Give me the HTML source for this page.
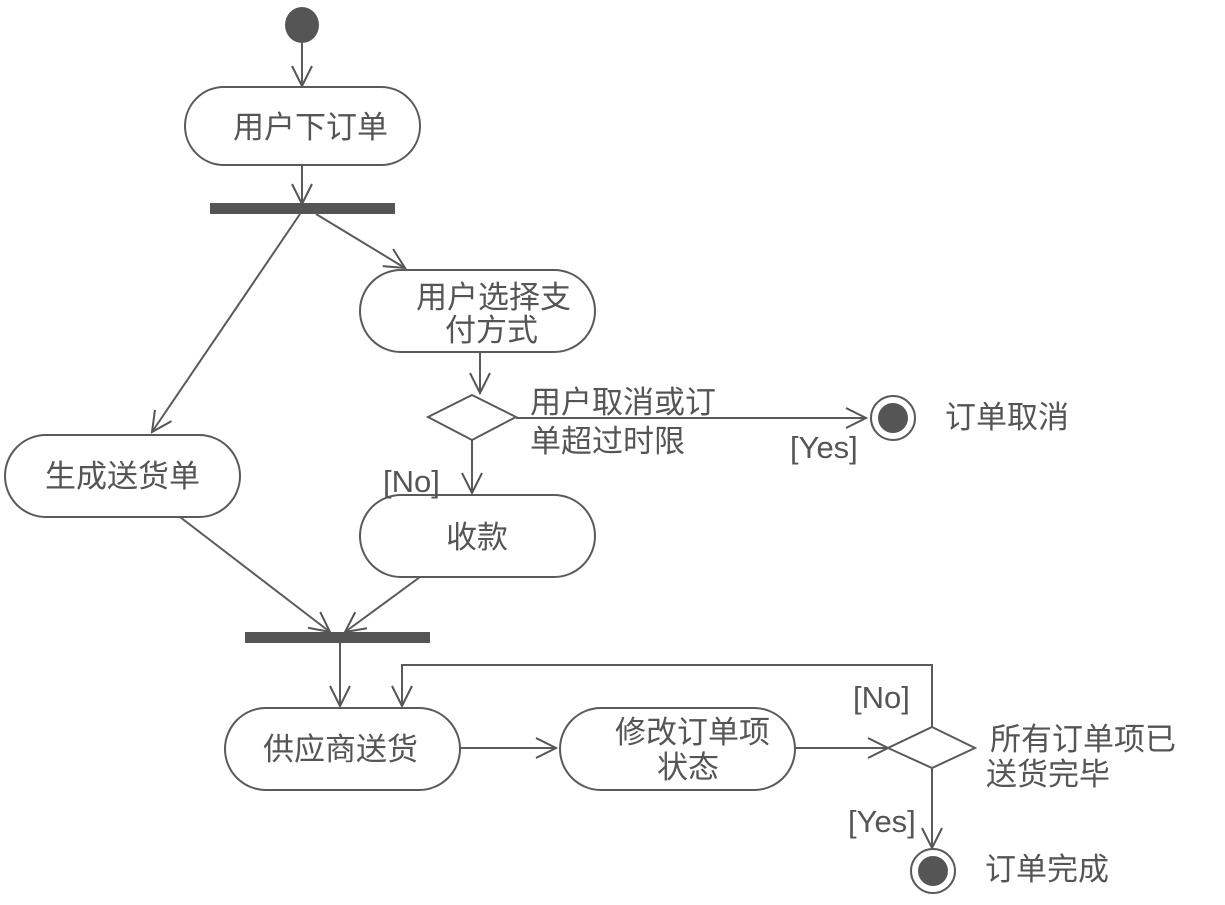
<!DOCTYPE html>
<html><head><meta charset="utf-8"><style>
html,body{margin:0;padding:0;background:#fff;}
svg{display:block;}
text{font-family:"Liberation Sans","Noto Sans CJK SC",sans-serif;fill:#555;font-size:31px;}
</style></head><body>
<svg width="1225" height="905" viewBox="0 0 1225 905" xmlns="http://www.w3.org/2000/svg">
<defs>
<marker id="a" markerWidth="24" markerHeight="24" refX="22" refY="12" orient="auto" markerUnits="userSpaceOnUse">
<path d="M2,2 L22,12 L2,22" fill="none" stroke="#555" stroke-width="2"/>
</marker>
</defs>
<g stroke="#5a5a5a" stroke-width="2" fill="none">
<ellipse cx="302" cy="25" rx="17" ry="18" fill="#555" stroke="none"/>
<line x1="302" y1="43" x2="302" y2="86" marker-end="url(#a)"/>
<rect x="185" y="87" width="235" height="78" rx="39" fill="#fff"/>
<line x1="302" y1="165" x2="302" y2="204" marker-end="url(#a)"/>
<rect x="210" y="203" width="185" height="11" fill="#555" stroke="none"/>
<line x1="300" y1="214" x2="152" y2="432" marker-end="url(#a)"/>
<line x1="316" y1="214" x2="405" y2="268" marker-end="url(#a)"/>
<rect x="360" y="270" width="235" height="82" rx="41" fill="#fff"/>
<line x1="480" y1="352" x2="480" y2="393" marker-end="url(#a)"/>
<polygon points="472,395 516,417 472,440 428,417" fill="#fff"/>
<line x1="516" y1="418" x2="866" y2="418" marker-end="url(#a)"/>
<circle cx="893" cy="418" r="22" fill="#fff"/>
<circle cx="893" cy="418" r="15" fill="#555" stroke="none"/>
<line x1="472" y1="440" x2="472" y2="493" marker-end="url(#a)"/>
<rect x="360" y="495" width="235" height="82" rx="41" fill="#fff"/>
<rect x="5" y="435" width="235" height="82" rx="41" fill="#fff"/>
<line x1="180" y1="517" x2="330" y2="632" marker-end="url(#a)"/>
<line x1="420" y1="577" x2="345" y2="632" marker-end="url(#a)"/>
<rect x="245" y="632" width="185" height="11" fill="#555" stroke="none"/>
<line x1="340" y1="643" x2="340" y2="706" marker-end="url(#a)"/>
<polyline points="932,727 932,665 402,665 402,706" marker-end="url(#a)"/>
<rect x="225" y="708" width="235" height="82" rx="41" fill="#fff"/>
<line x1="460" y1="748" x2="556" y2="748" marker-end="url(#a)"/>
<rect x="560" y="708" width="235" height="82" rx="41" fill="#fff"/>
<line x1="795" y1="748" x2="888" y2="748" marker-end="url(#a)"/>
<polygon points="932,727 975,748 932,768 888,748" fill="#fff"/>
<line x1="932" y1="768" x2="932" y2="848" marker-end="url(#a)"/>
<circle cx="933" cy="871" r="22" fill="#fff"/>
<circle cx="933" cy="871" r="15" fill="#555" stroke="none"/>
</g>
<text x="233" y="138">用户下订单</text>
<text x="416" y="308">用户选择支</text>
<text x="445" y="341">付方式</text>
<text x="530" y="413">用户取消或订</text>
<text x="530" y="452">单超过时限</text>
<text x="790" y="458">[Yes]</text>
<text x="945" y="428">订单取消</text>
<text x="383" y="492">[No]</text>
<text x="446" y="548">收款</text>
<text x="45" y="487">生成送货单</text>
<text x="263" y="760">供应商送货</text>
<text x="615" y="743">修改订单项</text>
<text x="657" y="778">状态</text>
<text x="853" y="708">[No]</text>
<text x="990" y="750">所有订单项已</text>
<text x="986" y="785">送货完毕</text>
<text x="848" y="832">[Yes]</text>
<text x="985" y="880">订单完成</text>
</svg>
</body></html>
